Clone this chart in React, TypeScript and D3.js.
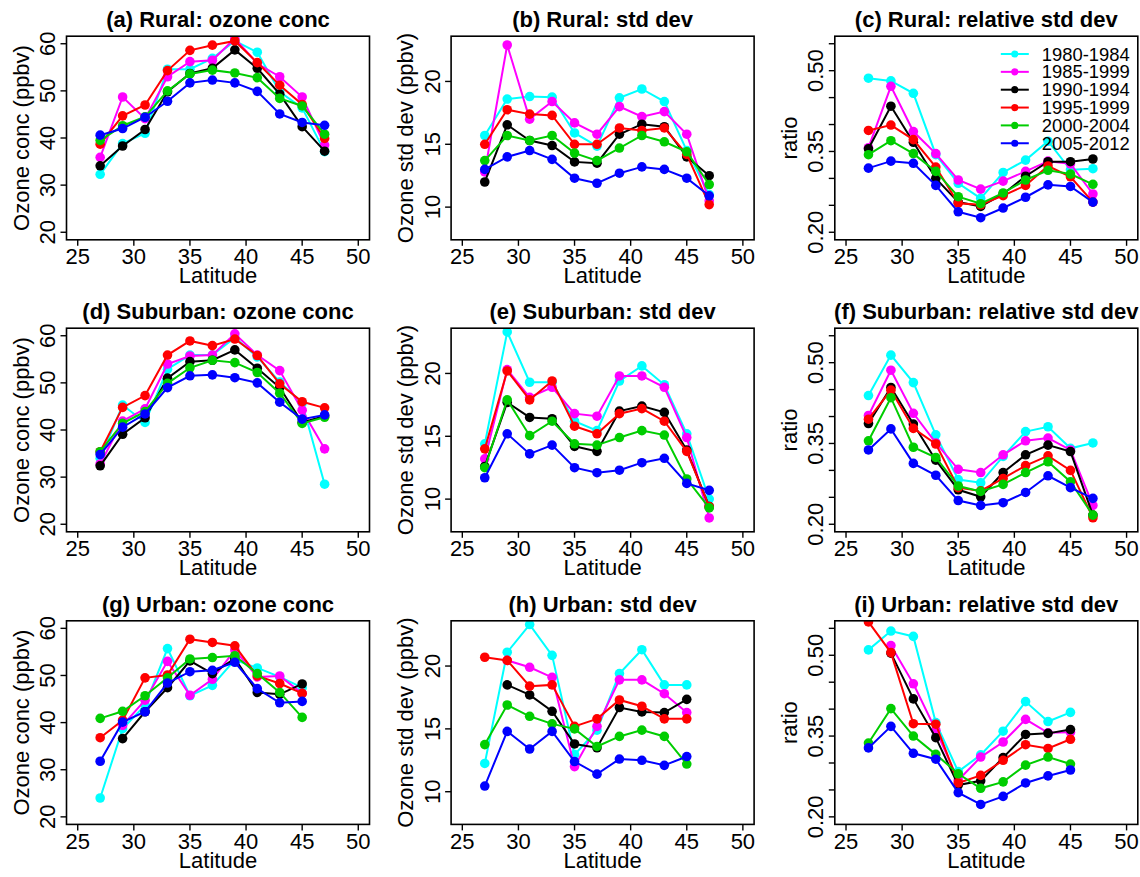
import * as d3 from 'd3';

// latitude bins and periods
const LATS = [27, 29, 31, 33, 35, 37, 39, 41, 43, 45, 47];
const PERIODS = ['1980-1984', '1985-1999', '1990-1994', '1995-1999', '2000-2004', '2005-2012'];
const COLORS = ['#00FFFF', '#FF00FF', '#000000', '#FF0000', '#00CD00', '#0000FF'];
const X_TICKS = [25, 30, 35, 40, 45, 50];

// one row per period, one value per latitude (null = no data)
const ruralConc = [
  [32.3, 38.8, 41.0, 54.6, 54.6, 56.9, 60.6, 58.2, 49.8, 46.4, 37.1],
  [35.9, 48.7, 44.1, 53.0, 56.2, 56.5, 61.1, 55.8, 53.0, 48.7, 38.5],
  [34.1, 38.3, 41.8, 49.8, 53.7, 54.8, 58.7, 54.8, 49.3, 42.4, 37.2],
  [38.7, 44.7, 47.0, 54.3, 58.6, 59.7, 60.6, 56.0, 51.2, 47.1, 39.9],
  [39.5, 42.6, 44.5, 50.0, 53.6, 54.4, 53.8, 52.8, 48.4, 46.8, 40.8],
  [40.6, 42.0, 44.4, 47.8, 51.7, 52.3, 51.7, 49.9, 45.1, 43.3, 42.7],
];
const ruralSd = [
  [15.7, 18.6, 18.8, 18.75, 15.9, 14.85, 18.7, 19.4, 18.4, 14.5, 11.0],
  [12.8, 22.9, 17.0, 18.4, 16.7, 15.8, 18.0, 17.2, 17.6, 15.8, 10.5],
  [12.0, 16.55, 15.3, 14.9, 13.6, 13.5, 15.8, 16.6, 16.4, 14.0, 12.5],
  [15.0, 17.75, 17.4, 17.3, 15.0, 15.0, 16.3, 16.1, 16.3, 14.2, 10.2],
  [13.7, 15.7, 15.3, 15.7, 14.3, 13.7, 14.7, 15.7, 15.2, 14.4, 11.8],
  [13.0, 14.0, 14.5, 13.8, 12.3, 11.9, 12.7, 13.2, 13.0, 12.3, 10.9],
];
const ruralRel = [
  [0.486, 0.481, 0.458, 0.344, 0.291, 0.263, 0.311, 0.334, 0.369, 0.316, 0.318],
  [0.357, 0.471, 0.387, 0.346, 0.297, 0.280, 0.295, 0.313, 0.332, 0.327, 0.271],
  [0.355, 0.434, 0.367, 0.300, 0.256, 0.248, 0.271, 0.304, 0.331, 0.331, 0.336],
  [0.389, 0.399, 0.372, 0.321, 0.254, 0.251, 0.268, 0.287, 0.323, 0.303, 0.256],
  [0.344, 0.370, 0.346, 0.313, 0.266, 0.253, 0.273, 0.297, 0.315, 0.308, 0.289],
  [0.319, 0.332, 0.328, 0.287, 0.238, 0.227, 0.245, 0.265, 0.288, 0.285, 0.256],
];
const suburbanConc = [
  [34.0, 45.3, 41.6, 52.9, 55.9, 55.9, 59.6, 55.5, 50.2, 45.7, 28.5],
  [32.8, 41.9, 44.5, 54.0, 55.7, 55.9, 60.4, 55.9, 52.6, 44.2, 36.0],
  [32.4, 39.1, 42.6, 51.0, 54.5, 54.8, 57.0, 53.1, 49.0, 41.6, 43.0],
  [35.4, 44.8, 47.3, 55.9, 58.9, 57.9, 59.3, 55.8, 49.8, 46.0, 44.7],
  [35.4, 41.4, 43.9, 49.9, 53.2, 54.8, 54.3, 52.2, 47.8, 41.4, 42.7],
  [34.8, 40.6, 43.4, 49.0, 51.5, 51.7, 51.1, 50.0, 45.9, 42.3, 43.2],
];
const suburbanSd = [
  [14.4, 23.3, 19.3, 19.3, 16.2, 15.45, 19.4, 20.6, 19.1, 15.2, 10.0],
  [13.2, 20.3, 18.1, 18.9, 16.8, 16.6, 19.8, 19.8, 18.9, 14.9, 8.5],
  [12.6, 17.7, 16.5, 16.4, 14.2, 13.8, 17.0, 17.4, 16.9, 13.9, 9.4],
  [14.0, 20.2, 17.9, 19.4, 15.8, 15.2, 16.8, 17.2, 16.2, 13.8, 9.4],
  [12.5, 17.9, 15.05, 16.2, 14.4, 14.3, 14.9, 15.45, 15.1, 11.6, 9.3],
  [11.7, 15.2, 13.6, 14.3, 12.5, 12.1, 12.3, 12.9, 13.25, 11.25, 10.7],
];
const suburbanRel = [
  [0.439, 0.514, 0.463, 0.366, 0.283, 0.277, 0.326, 0.372, 0.381, 0.341, 0.351],
  [0.402, 0.486, 0.406, 0.351, 0.302, 0.296, 0.329, 0.355, 0.360, 0.338, 0.235],
  [0.387, 0.454, 0.386, 0.319, 0.264, 0.251, 0.296, 0.329, 0.347, 0.335, 0.217],
  [0.395, 0.449, 0.378, 0.349, 0.268, 0.262, 0.285, 0.309, 0.327, 0.300, 0.212],
  [0.355, 0.435, 0.343, 0.324, 0.271, 0.261, 0.274, 0.296, 0.316, 0.279, 0.217],
  [0.338, 0.377, 0.313, 0.291, 0.244, 0.235, 0.240, 0.259, 0.290, 0.268, 0.248],
];
const urbanConc = [
  [24.0, 38.7, 43.7, 55.7, 45.7, 47.9, 53.3, 51.6, 49.7, 47.4, null],
  [null, 39.4, 44.75, 53.0, 45.8, 49.2, 55.4, 49.7, 49.9, 46.2, null],
  [null, 36.6, 42.3, 47.4, 53.1, 50.4, 53.6, 46.4, 46.0, 48.2, null],
  [36.8, 40.5, 49.5, 50.1, 57.7, 57.0, 56.3, 49.9, 48.3, 46.2, null],
  [40.9, 42.4, 45.7, 49.5, 53.5, 53.8, 54.2, 50.4, 46.4, 41.1, null],
  [31.8, 40.1, 42.3, 48.4, 50.8, 51.1, 52.8, 47.2, 44.2, 44.5, null],
];
const urbanSd = [
  [12.25, 21.1, 23.3, 20.85, 12.95, 14.9, 19.4, 21.3, 18.5, 18.5, null],
  [null, 20.45, 19.9, 19.1, 12.0, 15.2, 18.9, 18.9, 17.8, 16.3, null],
  [null, 18.5, 17.7, 16.4, 13.8, 13.5, 16.7, 16.35, 16.3, 17.35, null],
  [20.7, 20.45, 18.4, 18.5, 15.2, 15.8, 17.3, 16.8, 15.8, 15.8, null],
  [13.75, 16.9, 16.0, 15.4, 15.0, 13.6, 14.4, 14.9, 14.4, 12.2, null],
  [10.45, 14.8, 13.4, 14.8, 12.4, 11.4, 12.6, 12.5, 12.1, 12.8, null],
];
const urbanRel = [
  [0.510, 0.545, 0.535, 0.375, 0.284, 0.315, 0.359, 0.414, 0.377, 0.394, null],
  [null, 0.518, 0.447, 0.361, 0.268, 0.311, 0.339, 0.381, 0.356, 0.357, null],
  [null, 0.504, 0.419, 0.347, 0.259, 0.267, 0.310, 0.353, 0.355, 0.362, null],
  [0.562, 0.505, 0.373, 0.372, 0.263, 0.277, 0.305, 0.334, 0.327, 0.344, null],
  [0.337, 0.401, 0.350, 0.316, 0.280, 0.253, 0.265, 0.296, 0.311, 0.298, null],
  [0.328, 0.368, 0.318, 0.307, 0.245, 0.223, 0.238, 0.263, 0.276, 0.287, null],
];

const CONC = { ylab: 'Ozone conc (ppbv)', lim: [20, 60], ticks: [20, 30, 40, 50, 60], labels: [20, 30, 40, 50, 60], fmt: (v: number) => String(v) };
const SD = { ylab: 'Ozone std dev (ppbv)', lim: [8, 23], ticks: [10, 15, 20], labels: [10, 15, 20], fmt: (v: number) => String(v) };
const REL = { ylab: 'ratio', lim: [0.2, 0.55], ticks: [0.2, 0.25, 0.3, 0.35, 0.4, 0.45, 0.5, 0.55], labels: [0.2, 0.35, 0.5], fmt: (v: number) => v.toFixed(2) };

const PANELS = [
  { title: '(a) Rural: ozone conc', kind: CONC, data: ruralConc },
  { title: '(b) Rural: std dev', kind: SD, data: ruralSd },
  { title: '(c) Rural: relative std dev', kind: REL, data: ruralRel, legend: true },
  { title: '(d) Suburban: ozone conc', kind: CONC, data: suburbanConc },
  { title: '(e) Suburban: std dev', kind: SD, data: suburbanSd },
  { title: '(f) Suburban: relative std dev', kind: REL, data: suburbanRel },
  { title: '(g) Urban: ozone conc', kind: CONC, data: urbanConc },
  { title: '(h) Urban: std dev', kind: SD, data: urbanSd },
  { title: '(i) Urban: relative std dev', kind: REL, data: urbanRel },
];

const COL_X = [66.5, 451.1, 834.8];
const ROW_Y = [36.2, 328.2, 620.8];
const BOX_W = 303;
const BOX_H = 203.6;
const FONT = "'Liberation Sans', Arial, Helvetica, sans-serif";

function Panel({ p, idx }: { p: any; idx: number }) {
  const x0 = COL_X[idx % 3];
  const y0 = ROW_Y[Math.floor(idx / 3)];
  const [lo, hi] = p.kind.lim;
  const ext = (hi - lo) * 0.04;
  const x = d3.scaleLinear().domain([24, 51]).range([x0, x0 + BOX_W]);
  const y = d3.scaleLinear().domain([lo - ext, hi + ext]).range([y0 + BOX_H, y0]);
  const line = d3.line<[number, number | null]>()
    .defined(d => d[1] != null)
    .x(d => x(d[0]))
    .y(d => y(d[1] as number));
  const clipId = `clip${idx}`;
  const bottom = y0 + BOX_H;

  return (
    <g>
      <clipPath id={clipId}>
        <rect x={x0} y={y0} width={BOX_W} height={BOX_H} />
      </clipPath>
      <g clipPath={`url(#${clipId})`}>
        {p.data.map((vals: (number | null)[], s: number) => {
          const pts = LATS.map((lat, i) => [lat, vals[i]] as [number, number | null]);
          return (
            <g key={s}>
              <path d={line(pts) || ''} fill="none" stroke={COLORS[s]} strokeWidth={2} />
              {pts.filter(d => d[1] != null).map((d, i) => (
                <circle key={i} cx={x(d[0])} cy={y(d[1] as number)} r={4.8} fill={COLORS[s]} />
              ))}
            </g>
          );
        })}
      </g>
      <rect x={x0} y={y0} width={BOX_W} height={BOX_H} fill="none" stroke="#000" strokeWidth={1.6} />

      {/* x axis */}
      {X_TICKS.map(t => (
        <g key={t}>
          <line x1={x(t)} x2={x(t)} y1={bottom} y2={bottom + 6} stroke="#000" strokeWidth={1.4} />
          <text x={x(t)} y={bottom + 24.5} textAnchor="middle" fontSize={22} fontFamily={FONT}>{t}</text>
        </g>
      ))}
      <text x={x0 + BOX_W / 2} y={bottom + 43.5} textAnchor="middle" fontSize={22} fontFamily={FONT}>Latitude</text>

      {/* y axis */}
      {p.kind.ticks.map((t: number) => (
        <line key={t} x1={x0 - 6} x2={x0} y1={y(t)} y2={y(t)} stroke="#000" strokeWidth={1.4} />
      ))}
      {p.kind.labels.map((t: number) => (
        <text key={t} transform={`translate(${x0 - 11.5},${y(t)}) rotate(-90)`} textAnchor="middle"
          fontSize={22} fontFamily={FONT}>{p.kind.fmt(t)}</text>
      ))}
      <text transform={`translate(${x0 - 38},${y0 + BOX_H / 2}) rotate(-90)`} textAnchor="middle"
        fontSize={22} fontFamily={FONT}>{p.kind.ylab}</text>

      <text x={x0 + BOX_W / 2} y={y0 - 9} textAnchor="middle" fontSize={22} fontWeight="bold" fontFamily={FONT}>
        {p.title}
      </text>

      {p.legend && PERIODS.map((lab, s) => {
        const ly = y0 + 17.8 + s * 17.85;
        return (
          <g key={lab}>
            <line x1={x0 + 166} x2={x0 + 194} y1={ly} y2={ly} stroke={COLORS[s]} strokeWidth={2} />
            <circle cx={x0 + 180} cy={ly} r={3.6} fill={COLORS[s]} />
            <text x={x0 + 207} y={ly + 6.5} fontSize={18.4} fontFamily={FONT}>{lab}</text>
          </g>
        );
      })}
    </g>
  );
}

export default function App() {
  return (
    <svg width={1140} height={877} style={{ position: 'absolute', left: 0, top: 0, background: '#fff' }}>
      <rect width={1140} height={877} fill="#fff" />
      {PANELS.map((p, i) => <Panel key={i} p={p} idx={i} />)}
    </svg>
  );
}
